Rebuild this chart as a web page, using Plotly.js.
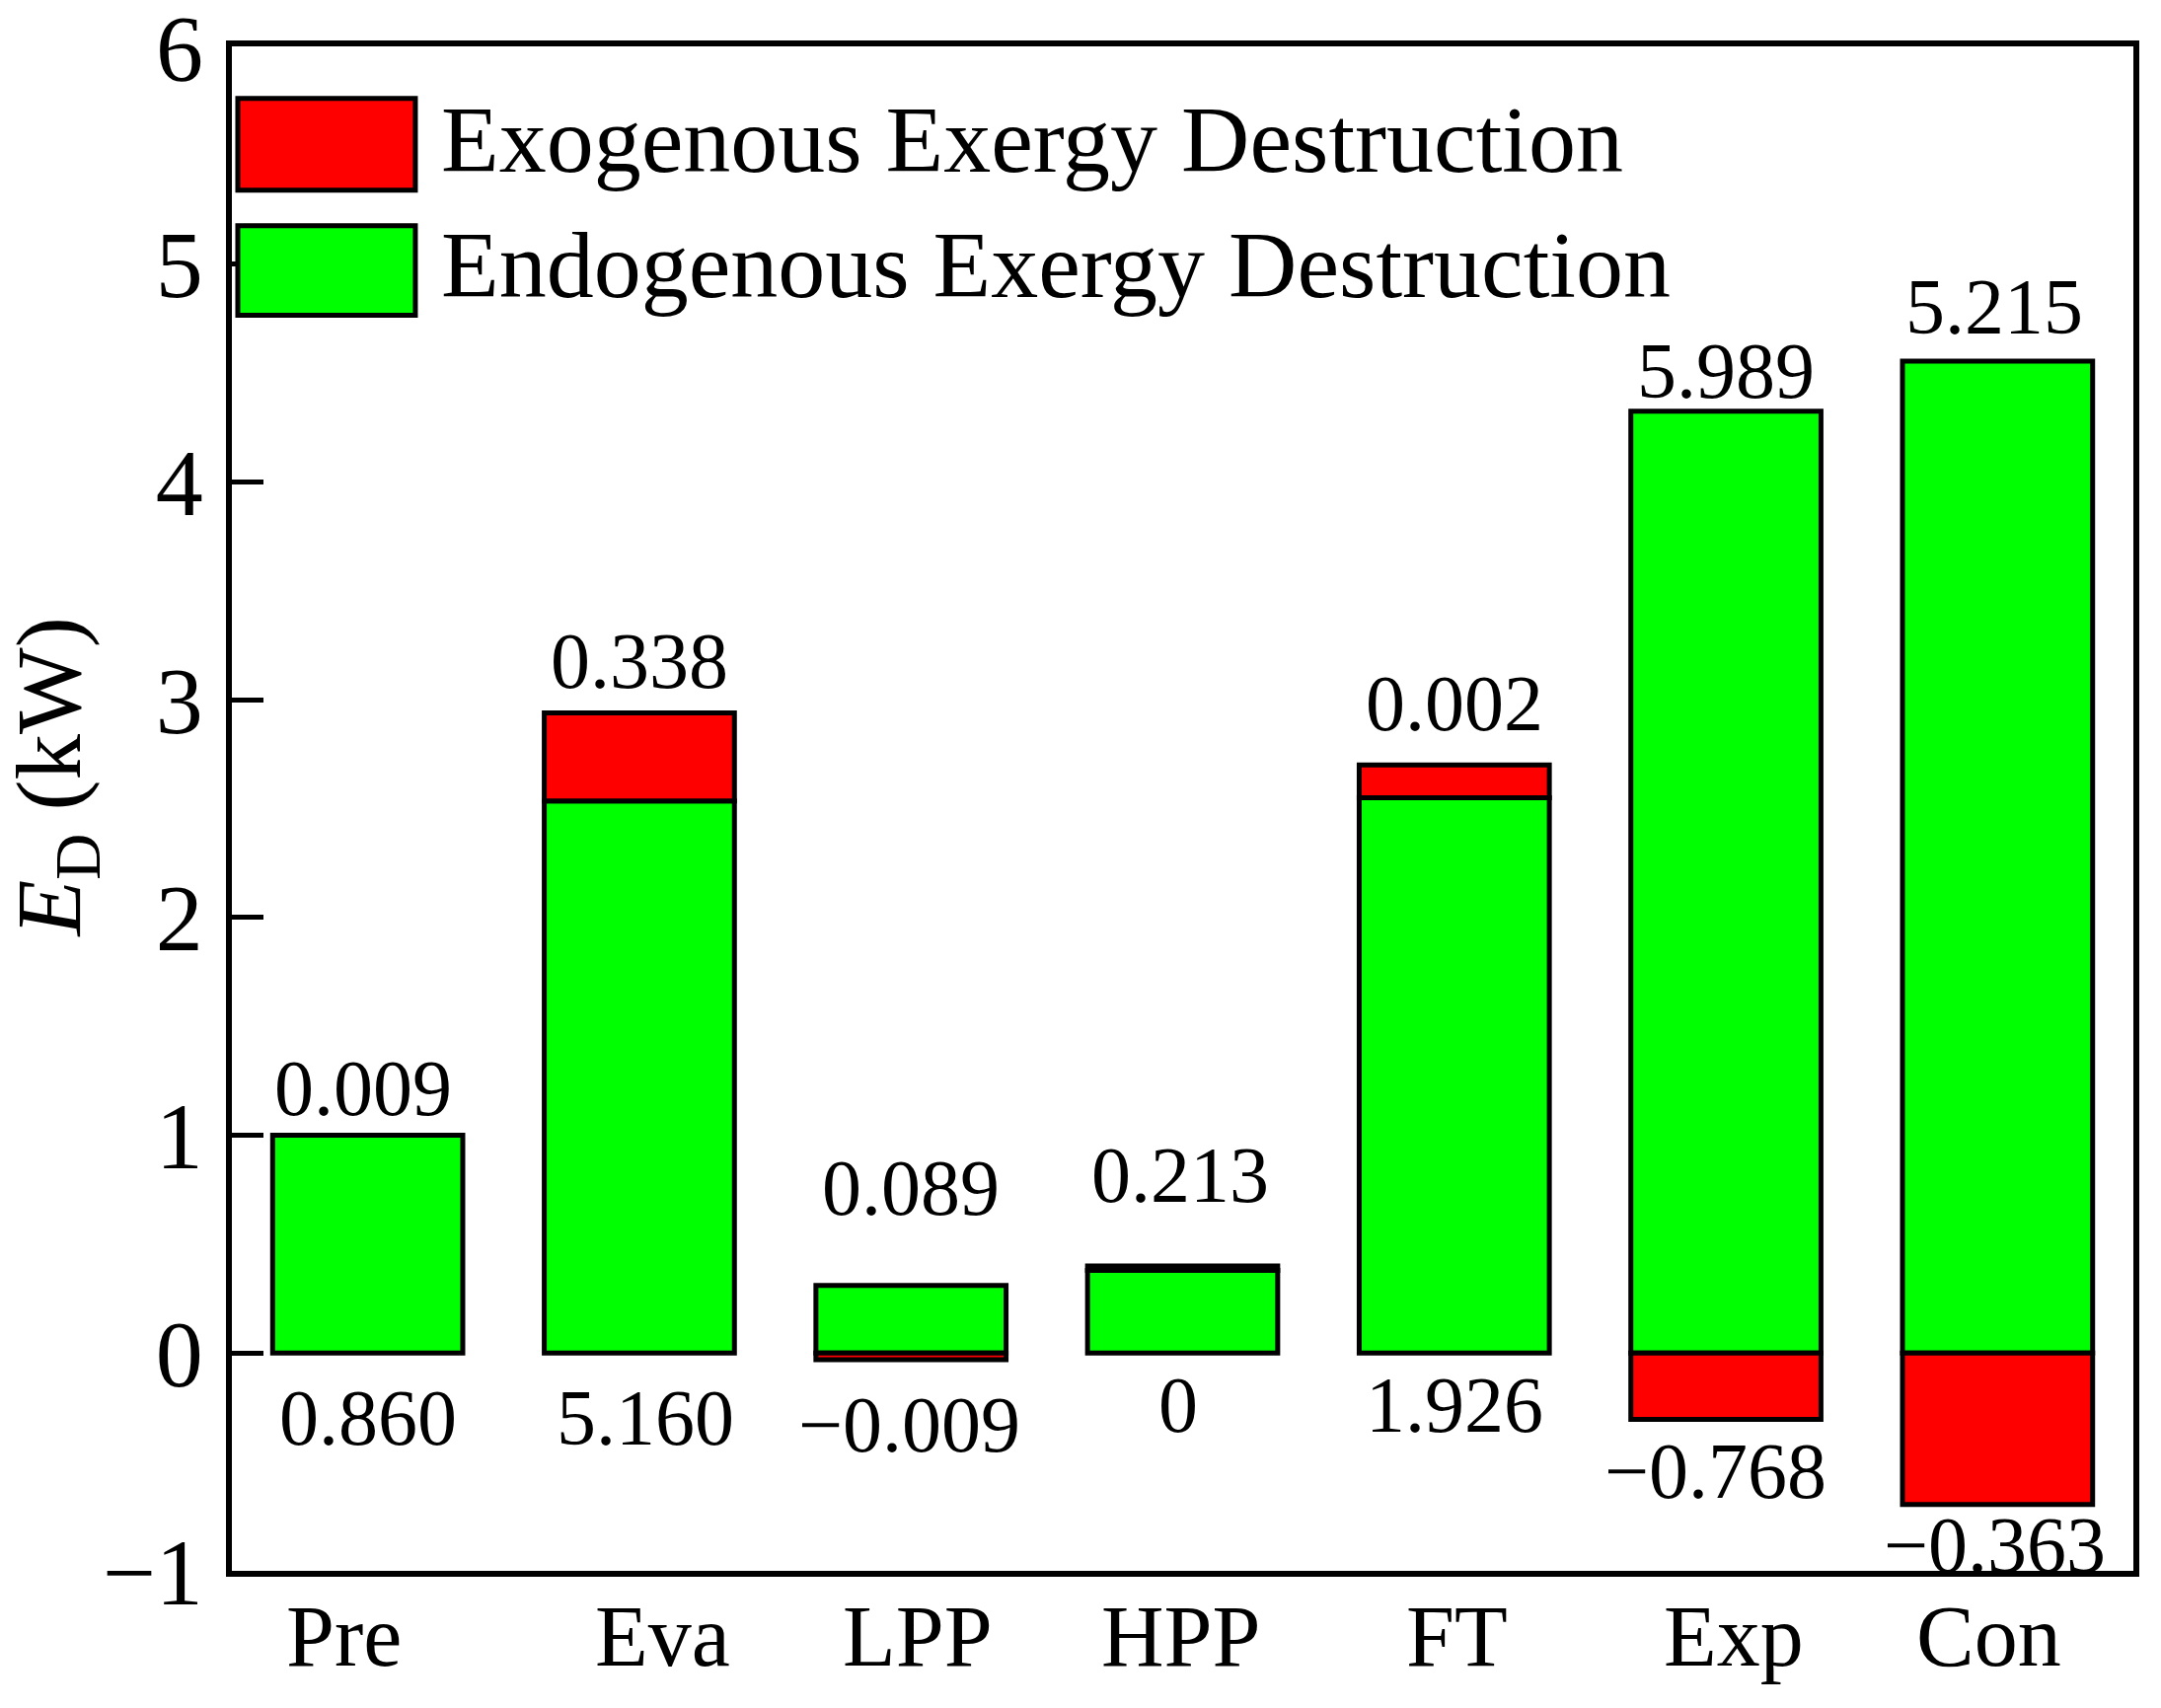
<!DOCTYPE html>
<html>
<head>
<meta charset="utf-8">
<script src="https://cdn.plot.ly/plotly-3.0.1.min.js"></script>
<style>html,body{margin:0;padding:0;background:#fff;}#chart{width:2190px;height:1731px;}</style>
</head>
<body>
<div id="chart"></div>
<script>
// ---- data ----
const categories = ['Pre', 'Eva', 'LPP', 'HPP', 'FT', 'Exp', 'Con'];
const endogenous = [1.00, 2.535, 0.31, 0.38, 2.55, 4.325, 4.555];
const exogenous  = [0.0, 0.405, -0.03, 0.02, 0.15, -0.305, -0.695];
const topLabels    = ['0.009', '0.338', '0.089', '0.213', '0.002', '5.989', '5.215'];
const bottomLabels = ['0.860', '5.160', '\u22120.009', '0', '1.926', '\u22120.768', '\u22120.363'];
const seriesNames = ['Exogenous Exergy Destruction', 'Endogenous Exergy Destruction'];
const yTickVals = [-1, 0, 1, 2, 3, 4, 5, 6];
const yTickText = ['\u22121', '0', '1', '2', '3', '4', '5', '6'];

// ---- layout tweaks (pixel offsets) ----
const topGap    = [48, 52, 99, 92, 62, 41, 55];
const bottomGap = [66, 66, 66, 53, 53, 52, 41];
const topShiftX = [-5, 0, 0, -3, 0, 0, -3];
const botShiftX = [0, 6, -2, -5, 0, -11, -3];
const catShift  = [-24, 24, 7, -2, 3, 8, -9];

const FONT = 'Liberation Serif, Times New Roman, serif';
const RED = '#FF0000', GREEN = '#00FF00';

const traces = [
  {type: 'bar', x: categories, y: endogenous, name: seriesNames[1],
   marker: {color: GREEN, line: {color: '#000', width: 5}}, width: 0.70, showlegend: false, hoverinfo: 'none'},
  {type: 'bar', x: categories, y: exogenous, name: seriesNames[0],
   marker: {color: RED, line: {color: '#000', width: 5}}, width: 0.70, showlegend: false, hoverinfo: 'none'}
];

const annotations = [];
categories.forEach((c, i) => {
  const top = endogenous[i] + Math.max(exogenous[i], 0);
  const bottom = Math.min(0, exogenous[i]) + Math.min(0, endogenous[i]);
  annotations.push({x: c, y: top, xref: 'x', yref: 'y', text: topLabels[i], showarrow: false,
    xanchor: 'center', yanchor: 'middle', yshift: topGap[i], xshift: topShiftX[i],
    font: {family: FONT, size: 80, color: '#000'}});
  annotations.push({x: c, y: bottom, xref: 'x', yref: 'y', text: bottomLabels[i], showarrow: false,
    xanchor: 'center', yanchor: 'middle', yshift: -bottomGap[i], xshift: botShiftX[i],
    font: {family: FONT, size: 80, color: '#000'}});
  annotations.push({x: c, y: 0, xref: 'x', yref: 'paper', text: c, showarrow: false,
    xanchor: 'center', yanchor: 'top', yshift: -16, xshift: catShift[i], font: {family: FONT, size: 88, color: '#000'}});
});
// top y tick label (the axis drops the label at the very end of its range)
const lastTick = yTickVals.length - 1;
annotations.push({x: 0, y: yTickVals[lastTick], xref: 'paper', yref: 'y', text: yTickText[lastTick], showarrow: false,
  xanchor: 'right', yanchor: 'middle', xshift: -27, yshift: -2, font: {family: FONT, size: 96, color: '#000'}});
// legend texts
annotations.push({x: 0.109, y: 0.9386, xref: 'paper', yref: 'paper', text: seriesNames[0], showarrow: false,
  xanchor: 'left', yanchor: 'middle', font: {family: FONT, size: 96, color: '#000'}});
annotations.push({x: 0.109, y: 0.8566, xref: 'paper', yref: 'paper', text: seriesNames[1], showarrow: false,
  xanchor: 'left', yanchor: 'middle', font: {family: FONT, size: 96, color: '#000'}});
// y-axis title
annotations.push({x: 0, y: 0.52, xref: 'paper', yref: 'paper', text: '<i>E</i><sub>D</sub> (kW)', showarrow: false,
  textangle: -90, xanchor: 'center', yanchor: 'middle', xshift: -178, font: {family: FONT, size: 93, color: '#000'}});

const shapes = [
  {type: 'rect', xref: 'paper', yref: 'paper', x0: 0.0031, x1: 0.0965, y0: 0.9057, y1: 0.9658,
   fillcolor: RED, line: {color: '#000', width: 5}},
  {type: 'rect', xref: 'paper', yref: 'paper', x0: 0.0031, x1: 0.0965, y0: 0.8236, y1: 0.8824,
   fillcolor: GREEN, line: {color: '#000', width: 5}}
];

const layout = {
  width: 2190, height: 1731,
  margin: {l: 235, r: 28, t: 47, b: 139, pad: 0},
  paper_bgcolor: '#fff', plot_bgcolor: '#fff',
  barmode: 'relative',
  showlegend: false,
  xaxis: {type: 'category', range: [-0.5, 6.5], showticklabels: false, ticks: '',
          showline: true, mirror: true, linecolor: '#000', linewidth: 6, showgrid: false, zeroline: false, fixedrange: true},
  yaxis: {range: [-1.0002, 6.0002], tickvals: yTickVals, ticktext: yTickText, ticks: 'inside', ticklen: 32, tickwidth: 5, tickcolor: '#000',
          showline: true, mirror: true, linecolor: '#000', linewidth: 6, showgrid: false, zeroline: false,
          ticklabelstandoff: 4, tickfont: {family: FONT, size: 96, color: '#000'}, fixedrange: true},
  annotations: annotations,
  shapes: shapes
};

Plotly.newPlot('chart', traces, layout, {staticPlot: true, displayModeBar: false});
</script>
</body>
</html>
